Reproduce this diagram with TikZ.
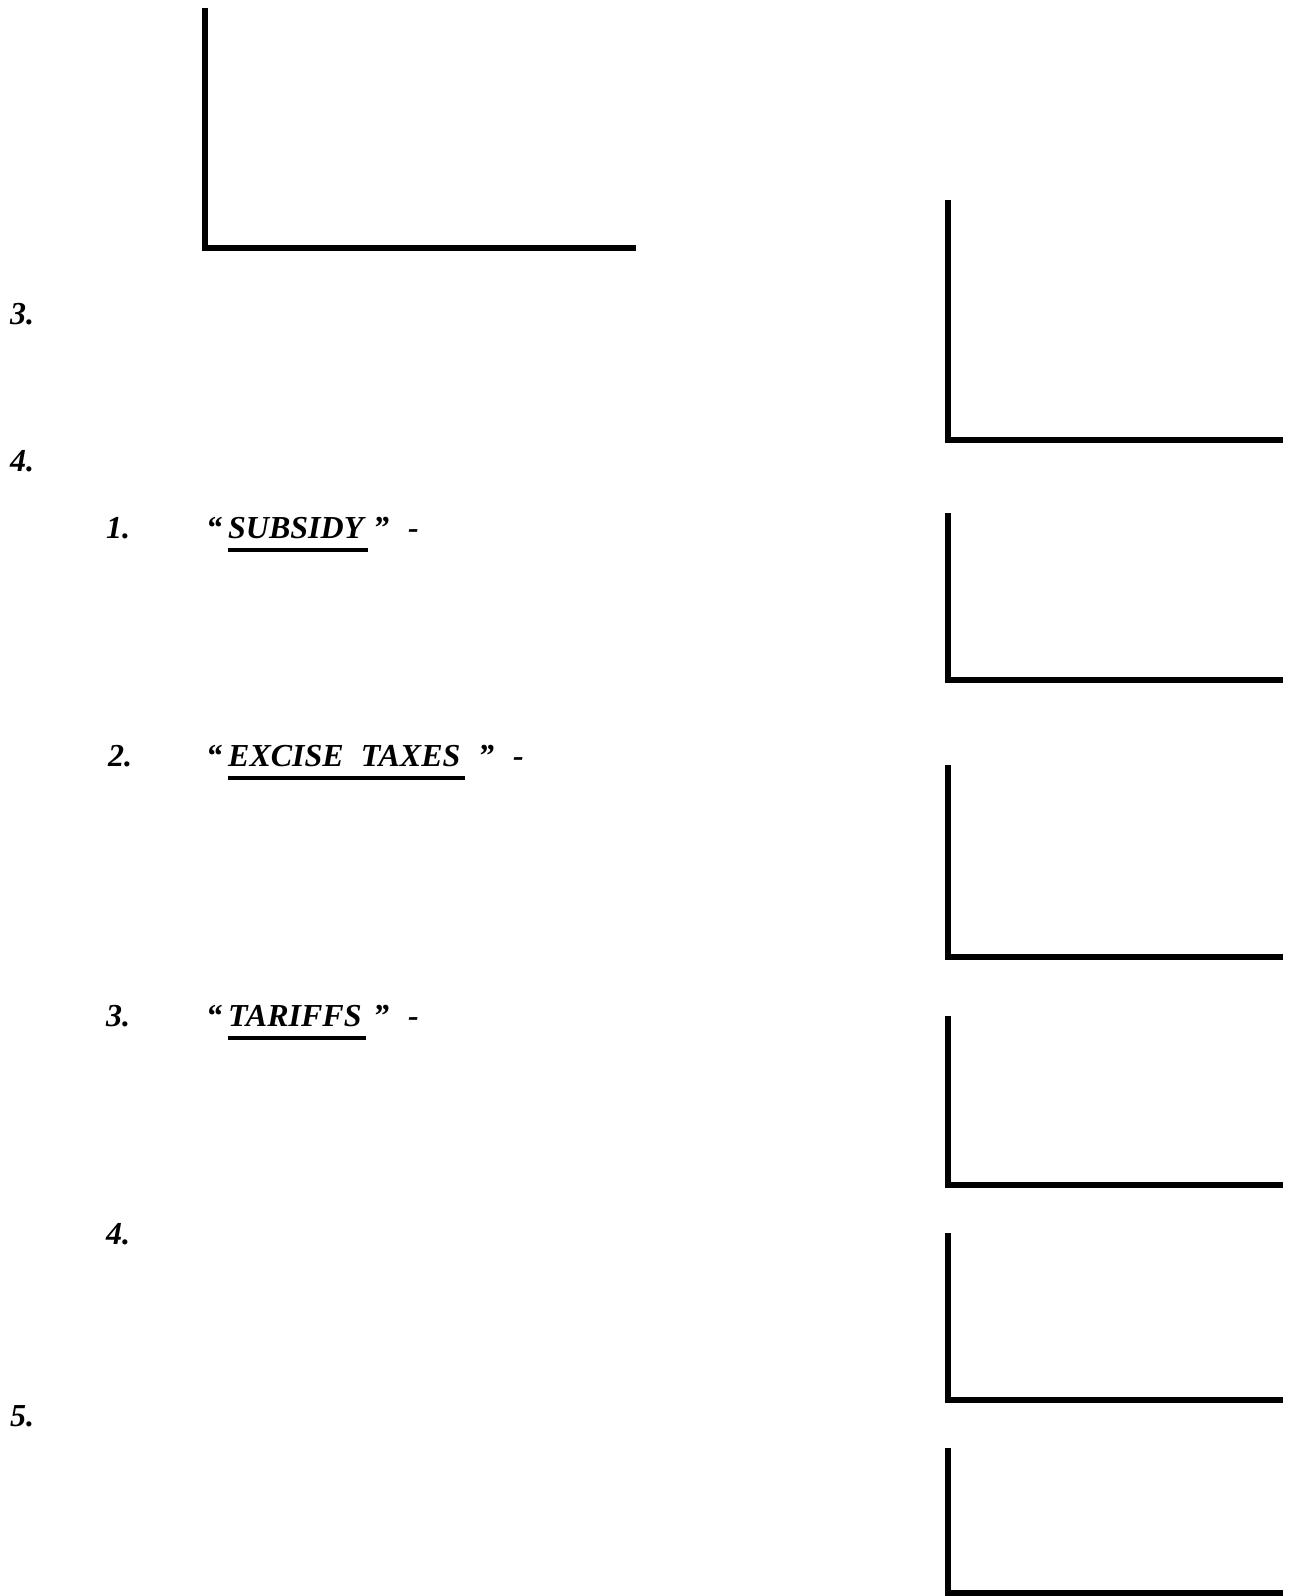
\documentclass[tikz,border=0pt]{standalone}
\usepackage{fontspec}
\setmainfont{Liberation Serif}
\begin{document}
\begin{tikzpicture}[x=1pt,y=-1pt,
  bracket/.style={line width=6pt, line join=miter},
  lbl/.style={anchor=base west, inner sep=0pt, font=\fontsize{32}{38}\selectfont\bfseries\itshape},
  uline/.style={line width=4.5pt}]
\useasboundingbox[fill=white] (0,0) rectangle (1289,1596);
% brackets
\draw[bracket] (204.5,8) -- (204.5,248) -- (636,248);
\draw[bracket] (948,200) -- (948,440) -- (1283,440);
\draw[bracket] (948,513) -- (948,680) -- (1283,680);
\draw[bracket] (948,765) -- (948,957) -- (1283,957);
\draw[bracket] (948,1016) -- (948,1184.5) -- (1283,1184.5);
\draw[bracket] (948,1233) -- (948,1400) -- (1283,1400);
\draw[bracket] (948,1448) -- (948,1593) -- (1283,1593);
% top-level numbers
\node[lbl] (n3) at (10,324) {3.};
\node[lbl] (n4) at (10,471) {4.};
\node[lbl] (n5) at (10,1426) {5.};
% item 1
\node[lbl] (a1) at (106,538) {1.};
\node[lbl] (q1) at (206,538) {“};
\node[lbl] (w1) at (228,538) {SUBSIDY};
\draw[uline] ([yshift=-12pt]w1.base west) -- ([yshift=-12pt,xshift=4pt]w1.base east);
\node[lbl] (c1) at (373,538) {”};
\node[lbl] (d1) at (408,538) {-};
% item 2
\node[lbl] (a2) at (108,766) {2.};
\node[lbl] (q2) at (206,766) {“};
\node[lbl] (w2) at (228,766) {EXCISE\hspace{17pt}TAXES};
\draw[uline] ([yshift=-12pt]w2.base west) -- ([yshift=-12pt,xshift=4pt]w2.base east);
\node[lbl] (c2) at (478,766) {”};
\node[lbl] (d2) at (513,766) {-};
% item 3
\node[lbl] (a3) at (106,1026) {3.};
\node[lbl] (q3) at (206,1026) {“};
\node[lbl] (w3) at (228,1026) {TARIFFS};
\draw[uline] ([yshift=-12pt]w3.base west) -- ([yshift=-12pt,xshift=4pt]w3.base east);
\node[lbl] (c3) at (373,1026) {”};
\node[lbl] (d3) at (408,1026) {-};
% item 4
\node[lbl] (a4) at (106,1244) {4.};
\end{tikzpicture}
\end{document}
